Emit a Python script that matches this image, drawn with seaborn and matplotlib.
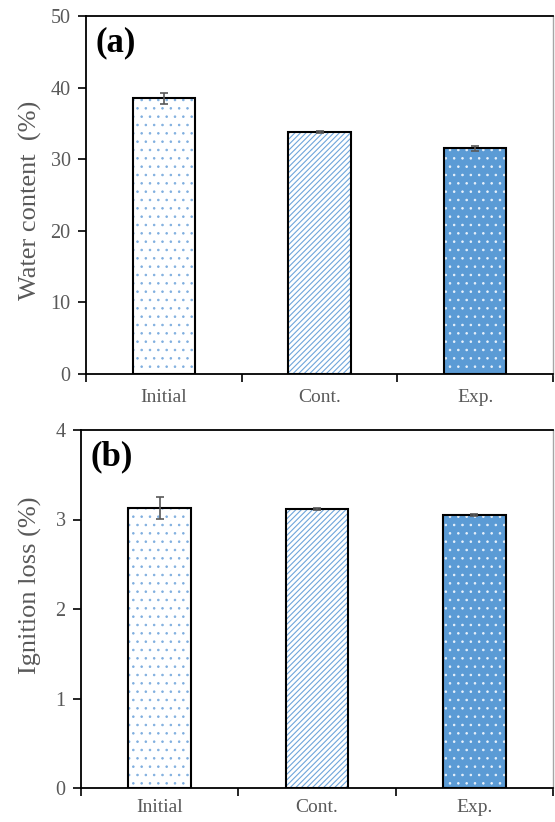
import matplotlib
matplotlib.use("Agg")
import matplotlib.pyplot as plt
import seaborn as sns
import numpy as np
import pandas as pd

categories = ["Initial", "Cont.", "Exp."]
water_content = [38.5, 33.8, 31.5]
water_err = [0.8, 0.15, 0.3]
ignition_loss = [3.13, 3.12, 3.05]
ignition_err = [0.12, 0.01, 0.01]
panel_labels = ["(a)", "(b)"]
y_labels = ["Water content  (%)", "Ignition loss (%)"]
y_limits = [(0, 50), (0, 4)]
y_steps = [10, 1]

sns.set_theme(style="white")
plt.rcParams["font.family"] = ["Liberation Serif", "DejaVu Serif"]
plt.rcParams["hatch.linewidth"] = 0.6

face_colors = ["white", "white", "#5B9BD5"]
hatch_colors = ["#7FAEDF", "#6FA5DB", "#EAF2FB"]
hatches = ["..", "//////", ".."]
hatch_lws = [0.6, 0.8, 0.6]
gray = "#595959"

fig = plt.figure(figsize=(5.55, 8.22), dpi=100)
ax_a = fig.add_axes([86 / 555, (822 - 374) / 822, 467 / 555, 358 / 822])
ax_b = fig.add_axes([81 / 555, (822 - 788) / 822, 472 / 555, 358 / 822])

datasets = [(ax_a, water_content, water_err), (ax_b, ignition_loss, ignition_err)]
label_y = [0.486, 0.567]
label_x = [-0.095, -0.082]
xpads = [11, 8]

for i, (ax, vals, errs) in enumerate(datasets):
    df = pd.DataFrame({"cat": categories, "val": vals})
    # hatched fill layer
    sns.barplot(data=df, x="cat", y="val", ax=ax, width=0.4, hue="cat",
                palette=face_colors, legend=False, linewidth=0, errorbar=None,
                saturation=1)
    for p, h, hc, hl in zip(ax.patches, hatches, hatch_colors, hatch_lws):
        p.set_hatch(h)
        p.set_edgecolor(hc)
        p.set_linewidth(0)
        try:
            p.set_hatch_linewidth(hl)
        except AttributeError:
            p._hatch_linewidth = hl
    # outline layer
    ax.bar(range(len(categories)), vals, width=0.4, facecolor="none",
           edgecolor="black", linewidth=1.5, zorder=3)
    ax.errorbar(range(len(categories)), vals, yerr=errs, fmt="none",
                ecolor=gray, elinewidth=1.2, capsize=3, capthick=1.2, zorder=4)

    ax.set_xlim(-0.5, 2.5)
    lo, hi = y_limits[i]
    ax.set_ylim(lo, hi)
    ax.set_yticks(np.arange(lo, hi + y_steps[i] / 2, y_steps[i]))
    ax.set_xticks([0, 1, 2])
    ax.set_xticklabels(categories)
    ax.set_xticks([-0.5, 0.5, 1.5, 2.5], minor=True)
    ax.tick_params(axis="x", which="major", length=0, labelsize=14,
                   labelcolor=gray, pad=xpads[i])
    ax.tick_params(axis="x", which="minor", length=6, width=1.2,
                   color="black", direction="out", bottom=True)
    ax.tick_params(axis="y", which="major", length=6, width=1.2,
                   color="black", direction="out", left=True,
                   labelsize=14.5, labelcolor=gray, pad=5)
    ax.set_xlabel("")
    ax.set_ylabel(y_labels[i], fontsize=19, color=gray)
    ax.yaxis.set_label_coords(label_x[i], label_y[i])
    for s in ["left", "bottom", "top"]:
        ax.spines[s].set_color("black")
        ax.spines[s].set_linewidth(1.3)
        ax.spines[s].set_visible(True)
    ax.spines["right"].set_color("#A6A6A6")
    ax.spines["right"].set_linewidth(1.0)
    ax.spines["right"].set_visible(True)
    ax.text(0.02, 0.97, panel_labels[i], transform=ax.transAxes,
            fontsize=25, fontweight="bold", color="black",
            ha="left", va="top")

fig.savefig("out.png", dpi=100)
